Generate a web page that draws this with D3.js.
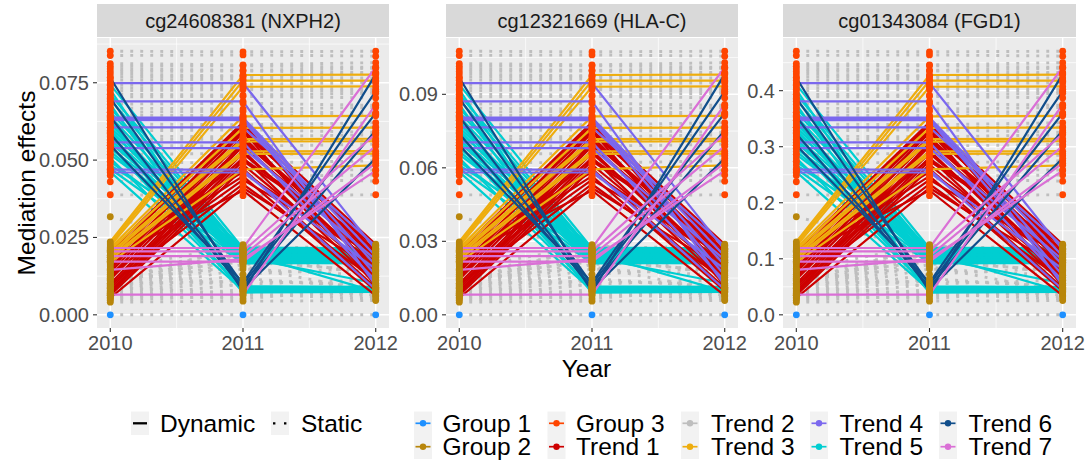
<!DOCTYPE html>
<html><head><meta charset="utf-8">
<script src="https://cdn.jsdelivr.net/npm/d3@7"></script>
<style>
body{margin:0;background:#fff}
svg{display:block}
text{font-family:"Liberation Sans",Arial,Helvetica,sans-serif}
</style>
</head><body>
<script>
// ---------------- data ----------------
const years = [2010, 2011, 2012];
const panelTitles = ["cg24608381 (NXPH2)", "cg12321669 (HLA-C)", "cg01343084 (FGD1)"];
// effect size of each CpG relative to NXPH2 (panels share the same trajectories)
const panelScale = [1, 1.263, 5.522];
const panelTicks = [[0, 0.025, 0.05, 0.075], [0, 0.03, 0.06, 0.09], [0, 0.1, 0.2, 0.3, 0.4]];
const tickFormats = [".3f", ".2f", ".1f"];
const groupNames = ["Group 1", "Group 2", "Group 3"];
const groupColors = ["#1E90FF", "#B8860B", "#FF4500"];
const trendNames = ["Trend 1", "Trend 2", "Trend 3", "Trend 4", "Trend 5", "Trend 6", "Trend 7"];
const trendColors = ["#CD0000", "#BEBEBE", "#EEAD0E", "#7B68EE", "#00CED1", "#104E8B", "#DA70D6"];
const linetypeNames = ["Dynamic", "Static"];

// mediation effects (NXPH2 units) for 2010, 2011, 2012
const trend1 = [
  [0.0205,0.0622,0.0228],[0.0192,0.0615,0.0205],[0.0178,0.0598,0.0187],[0.0165,0.0588,0.0219],
  [0.0150,0.0575,0.0163],[0.0138,0.0566,0.0198],[0.0126,0.0552,0.0142],[0.0114,0.0545,0.0176],
  [0.0101,0.0531,0.0121],[0.0093,0.0522,0.0155],[0.0085,0.0508,0.0101],[0.0078,0.0497,0.0213],
  [0.0070,0.0485,0.0132],[0.0063,0.0472,0.0088],[0.0210,0.0461,0.0169],[0.0172,0.0448,0.0077],
  [0.0132,0.0436,0.0190],[0.0098,0.0422,0.0112],[0.0055,0.0410,0.0146],[0.0185,0.0402,0.0062],
  [0.0120,0.0595,0.0095],[0.0158,0.0503,0.0225],[0.0068,0.0560,0.0185],[0.0145,0.0617,0.0135]
];
const trend2 = [
  [0,0,0],
  [0.0852,0.0850,0.0852],[0.0838,0.0840,0.0836],[0.0812,0.0808,0.0815],[0.0803,0.0805,0.0800],
  [0.0795,0.0790,0.0797],[0.0786,0.0788,0.0783],[0.0778,0.0772,0.0780],[0.0768,0.0770,0.0765],
  [0.0758,0.0762,0.0755],[0.0742,0.0745,0.0750],[0.0733,0.0735,0.0729],[0.0724,0.0728,0.0721],
  [0.0713,0.0710,0.0716],[0.0704,0.0706,0.0701],[0.0681,0.0684,0.0677],[0.0668,0.0665,0.0670],
  [0.0655,0.0658,0.0652],[0.0645,0.0644,0.0648],[0.0617,0.0614,0.0621],[0.0606,0.0605,0.0607],
  [0.0594,0.0598,0.0590],[0.0578,0.0575,0.0582],[0.0566,0.0568,0.0562],[0.0548,0.0545,0.0551],
  [0.0518,0.0522,0.0515],[0.0495,0.0490,0.0498],[0.0469,0.0470,0.0468],[0.0450,0.0447,0.0452],
  [0.0430,0.0440,0.0432],[0.0388,0.0385,0.0388],
  [0.0041,0.0044,0.0046],[0.0047,0.0062,0.0071],[0.0052,0.0081,0.0058],[0.0056,0.0099,0.0113],
  [0.0061,0.0117,0.0089],[0.0066,0.0131,0.0152],[0.0072,0.0148,0.0127],[0.0075,0.0163,0.0181],
  [0.0081,0.0176,0.0139],[0.0086,0.0189,0.0206],[0.0090,0.0201,0.0168],[0.0095,0.0214,0.0223],
  [0.0101,0.0108,0.0097],[0.0107,0.0223,0.0194],[0.0112,0.0156,0.0074],[0.0118,0.0195,0.0215],
  [0.0124,0.0171,0.0143],[0.0131,0.0209,0.0121],[0.0138,0.0092,0.0064],[0.0145,0.0227,0.0178],
  [0.0088,0.0068,0.0051],[0.0063,0.0052,0.0085],[0.0317,0.0206,0.0199]
];
const trend3 = [
  [0.0236,0.0775,0.0776],[0.0229,0.0757,0.0757],[0.0222,0.0737,0.0738],[0.0216,0.0641,0.0643],
  [0.0209,0.0604,0.0605],[0.0201,0.0568,0.0569],[0.0193,0.0560,0.0561],[0.0186,0.0528,0.0529],
  [0.0178,0.0520,0.0521],[0.0170,0.0470,0.0483]
];
const trend4 = [
  [0.0749,0.0749,0.0210],[0.0690,0.0690,0.0095],[0.0637,0.0637,0.0190],[0.0633,0.0633,0.0160],
  [0.0629,0.0629,0.0128],[0.0606,0.0606,0.0222],[0.0557,0.0557,0.0110],[0.0539,0.0539,0.0178],
  [0.0469,0.0469,0.0082],[0.0460,0.0460,0.0148]
];
const trend5 = [
  [0.0744,0.0215,0.0212],[0.0728,0.0088,0.0085],[0.0712,0.0205,0.0208],[0.0695,0.0198,0.0196],
  [0.0680,0.0076,0.0078],[0.0668,0.0190,0.0188],[0.0655,0.0210,0.0172],[0.0641,0.0183,0.0185],
  [0.0628,0.0092,0.0090],[0.0617,0.0176,0.0178],[0.0605,0.0202,0.0200],[0.0596,0.0170,0.0168],
  [0.0586,0.0072,0.0074],[0.0575,0.0194,0.0192],[0.0566,0.0168,0.0166],[0.0556,0.0186,0.0102],
  [0.0547,0.0081,0.0082],[0.0538,0.0212,0.0210],[0.0528,0.0179,0.0176],[0.0518,0.0200,0.0075],
  [0.0507,0.0085,0.0087],[0.0496,0.0173,0.0171],[0.0484,0.0207,0.0205],[0.0472,0.0166,0.0169],
  [0.0462,0.0079,0.0080],[0.0590,0.0217,0.0215]
];
const trend6 = [
  [0.0766,0.0075,0.0778],[0.0700,0.0098,0.0652],[0.0640,0.0082,0.0506],[0.0585,0.0090,0.0596],
  [0.0548,0.0104,0.0722]
];
const trend7 = [
  [0.0216,0.0216,0.0800],[0.0205,0.0205,0.0585],[0.0190,0.0190,0.0545],[0.0172,0.0172,0.0490],
  [0.0145,0.0180,0.0466],[0.0065,0.0065,0.0680]
];
const trendSeries = [trend1, trend2, trend3, trend4, trend5, trend6, trend7];
const staticTrend = 1; // Trend 2 lines are static
const groupBreak = 0.035; // NXPH2 units separating Group 2 and Group 3

// ---------------- layout ----------------
const W = 1091, H = 464;
const panelX = [[97, 389], [446, 738], [783, 1076]];
const pTop = 38, pBot = 328, stripTop = 4, stripBot = 37;
const svg = d3.select("body").append("svg").attr("width", W).attr("height", H);

const allVals = trendSeries.flat(2);
const maxBase = d3.max(allVals);
const groupOf = v => v === 0 ? 0 : (v < groupBreak ? 1 : 2);
const drawOrder = [1, 4, 0, 2, 3, 5, 6];

panelX.forEach(([x0, x1], pi) => {
  const s = panelScale[pi];
  const M = maxBase * s;
  const x = d3.scaleLinear().domain([2009.9, 2012.1]).range([x0, x1]);
  const y = d3.scaleLinear().domain([-0.05 * M, 1.05 * M]).range([pBot, pTop]);
  const g = svg.append("g");
  // strip
  g.append("rect").attr("x", x0).attr("y", stripTop).attr("width", x1 - x0).attr("height", stripBot - stripTop).attr("fill", "#D9D9D9");
  g.append("text").attr("x", (x0 + x1) / 2).attr("y", 27.5).attr("text-anchor", "middle")
    .attr("font-size", 20).attr("fill", "#1A1A1A").text(panelTitles[pi]);
  // background
  g.append("rect").attr("x", x0).attr("y", pTop).attr("width", x1 - x0).attr("height", pBot - pTop).attr("fill", "#EBEBEB");
  const ticks = panelTicks[pi];
  const step = ticks[1] - ticks[0];
  const minorY = d3.range(ticks.length + 1).map(i => ticks[0] + (i - 0.5) * step).filter(v => v > y.domain()[0] && v < y.domain()[1]);
  const minorX = [2010.5, 2011.5];
  minorY.forEach(v => g.append("line").attr("x1", x0).attr("x2", x1).attr("y1", y(v)).attr("y2", y(v)).attr("stroke", "#fff").attr("stroke-width", 0.7));
  minorX.forEach(v => g.append("line").attr("x1", x(v)).attr("x2", x(v)).attr("y1", pTop).attr("y2", pBot).attr("stroke", "#fff").attr("stroke-width", 0.7));
  ticks.forEach(v => g.append("line").attr("x1", x0).attr("x2", x1).attr("y1", y(v)).attr("y2", y(v)).attr("stroke", "#fff").attr("stroke-width", 1.4));
  years.forEach(v => g.append("line").attr("x1", x(v)).attr("x2", x(v)).attr("y1", pTop).attr("y2", pBot).attr("stroke", "#fff").attr("stroke-width", 1.4));

  // lines
  const line = d3.line().x((d, i) => x(years[i])).y(d => y(d * s));
  const lg = g.append("g").attr("fill", "none");
  drawOrder.forEach(ti => {
    trendSeries[ti].forEach(vals => {
      const p = lg.append("path").attr("d", line(vals)).attr("stroke", trendColors[ti]);
      if (ti === staticTrend) p.attr("stroke-width", 2.9).attr("stroke-dasharray", "2.9,7.1");
      else p.attr("stroke-width", 2.2).attr("stroke-linecap", "butt");
    });
  });
  // points
  const pts = [];
  trendSeries.forEach(arr => arr.forEach(vals => vals.forEach((v, i) => pts.push({ yr: years[i], v }))));
  g.append("g").selectAll("circle").data(pts).join("circle")
    .attr("cx", d => x(d.yr)).attr("cy", d => y(d.v * s)).attr("r", 3.4)
    .attr("fill", d => groupColors[groupOf(d.v)]);

  // axes
  const ya = g.append("g");
  ticks.forEach(v => {
    ya.append("line").attr("x1", x0 - 4).attr("x2", x0).attr("y1", y(v)).attr("y2", y(v)).attr("stroke", "#333").attr("stroke-width", 1.1);
    ya.append("text").attr("x", x0 - 8).attr("y", y(v) + 7).attr("text-anchor", "end").attr("font-size", 20).attr("fill", "#4D4D4D").text(d3.format(tickFormats[pi])(v));
  });
  years.forEach(v => {
    ya.append("line").attr("x1", x(v)).attr("x2", x(v)).attr("y1", pBot).attr("y2", pBot + 4).attr("stroke", "#333").attr("stroke-width", 1.1);
    ya.append("text").attr("x", x(v)).attr("y", 350).attr("text-anchor", "middle").attr("font-size", 20).attr("fill", "#4D4D4D").text(v);
  });
});

// axis titles
svg.append("text").attr("x", (panelX[0][0] + panelX[2][1]) / 2).attr("y", 377).attr("text-anchor", "middle").attr("font-size", 24.5).text("Year");
svg.append("text").attr("transform", `translate(35,${(pTop + pBot) / 2}) rotate(-90)`).attr("text-anchor", "middle").attr("font-size", 24.5).text("Mediation effects");

// legends
const rowC = [423.3, 446.7];
const keyW = 18, keyH = 23.5;
const lt = [{ kx: 131, tx: 160 }, { kx: 271, tx: 301 }];
linetypeNames.forEach((nm, i) => {
  svg.append("rect").attr("x", lt[i].kx).attr("y", rowC[0] - keyH / 2).attr("width", keyW).attr("height", keyH).attr("fill", "#F2F2F2");
  const l = svg.append("line").attr("x1", lt[i].kx + 2).attr("x2", lt[i].kx + 16).attr("y1", rowC[0]).attr("y2", rowC[0]).attr("stroke", "#000").attr("stroke-width", 2.3);
  if (i === 1) l.attr("stroke-dasharray", "2.4,8.6");
  svg.append("text").attr("x", lt[i].tx).attr("y", rowC[0] + 8.7).attr("font-size", 24.5).text(nm);
});
const colorNames = groupNames.concat(trendNames);
const colorCols = groupColors.concat(trendColors);
const colKX = [414, 547.5, 681, 810, 939];
const colTX = [442.5, 576, 711, 839.5, 968.5];
colorNames.forEach((nm, i) => {
  const c = Math.floor(i / 2), r = i % 2;
  const kx = colKX[c], cy = rowC[r];
  svg.append("rect").attr("x", kx).attr("y", cy - keyH / 2).attr("width", keyW).attr("height", keyH + 0.5).attr("fill", "#F2F2F2");
  svg.append("line").attr("x1", kx + 1.5).attr("x2", kx + 16.5).attr("y1", cy).attr("y2", cy).attr("stroke", colorCols[i]).attr("stroke-width", 1.7);
  svg.append("circle").attr("cx", kx + 9).attr("cy", cy).attr("r", 3.2).attr("fill", colorCols[i]);
  svg.append("text").attr("x", colTX[c]).attr("y", cy + 8.7).attr("font-size", 24.5).text(nm);
});
</script>
</body></html>
